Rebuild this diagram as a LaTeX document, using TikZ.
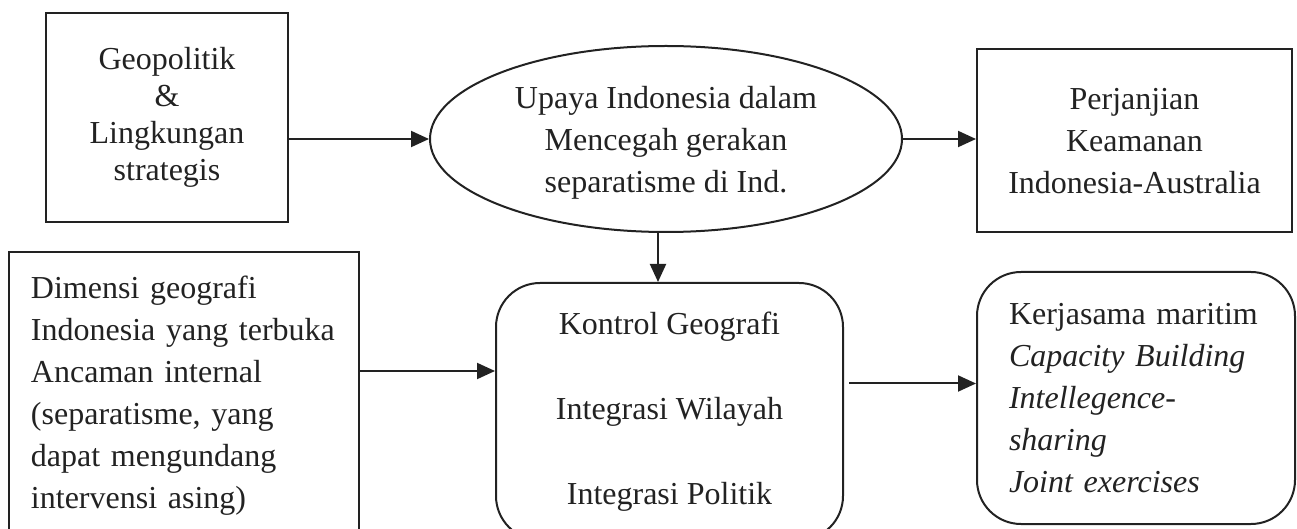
\documentclass[tikz,border=0pt]{standalone}
\usepackage{fontspec}
\setmainfont{Liberation Serif}
\usetikzlibrary{arrows.meta,shapes.geometric}
\definecolor{ink}{HTML}{222222}
\tikzset{
  box/.style={draw=ink, text=ink, line width=1pt, inner sep=0pt, font=\fontsize{16}{21}\selectfont},
  roundbox/.style={box, rounded corners=22pt},
  arrow/.style={draw=ink, line width=1pt, -{Triangle[length=9pt,width=8pt]}}
}

\begin{document}
\begin{tikzpicture}[x=0.5pt,y=-0.5pt]
    \useasboundingbox (0,0) rectangle (1297,529);
    \node[box, minimum width=121pt, minimum height=104.5pt, align=center,
          font=\fontsize{16}{18.5}\selectfont] (geo) at (167,117.5)
      {Geopolitik\\\&\\Lingkungan\\strategis};
    \node[box, ellipse, minimum width=236pt, minimum height=93pt, align=center, text depth=0pt] (upaya) at (666,139)
      {Upaya Indonesia dalam\\Mencegah gerakan\\separatisme di Ind.};
    \node[box, minimum width=157.5pt, minimum height=91.5pt, align=center, text depth=0pt] (perjanjian) at (1134.5,140.5)
      {Perjanjian\\Keamanan\\Indonesia-Australia};
    \node[box, minimum height=144pt, inner xsep=11pt, text width=153pt, align=left] (dimensi) at (184,396)
      {Dimensi geografi\\Indonesia yang terbuka\\Ancaman internal\\(separatisme, yang\\dapat mengundang\\intervensi asing)};
    \node[roundbox, minimum width=173.5pt, minimum height=128.5pt, align=center] (kontrol) at (669.5,411.5)
      {Kontrol Geografi\\[21.5pt]Integrasi Wilayah\\[21.5pt]Integrasi Politik};
    \node[roundbox, minimum height=126pt, inner xsep=16pt, text width=127pt, align=left] (kerjasama) at (1136,398)
      {Kerjasama maritim\\\textit{Capacity Building}\\\textit{Intellegence-}\\\textit{sharing}\\\textit{Joint exercises}};
    \coordinate (inA) at ([yshift=12.5pt]dimensi.east);
    \coordinate (outB) at ([xshift=2.5pt,yshift=14pt]kontrol.east);
    \draw[arrow] (geo.east |- upaya.west) -- (upaya.west);
    \draw[arrow] (upaya.east) -- (upaya.east -| perjanjian.west);
    \draw[arrow] ([xshift=-4pt]upaya.south) -- ([xshift=-4pt]upaya.south |- kontrol.north);
    \draw[arrow] (inA) -- (inA -| kontrol.west);
    \draw[arrow] (outB) -- (outB -| kerjasama.west);
\end{tikzpicture}
\end{document}
